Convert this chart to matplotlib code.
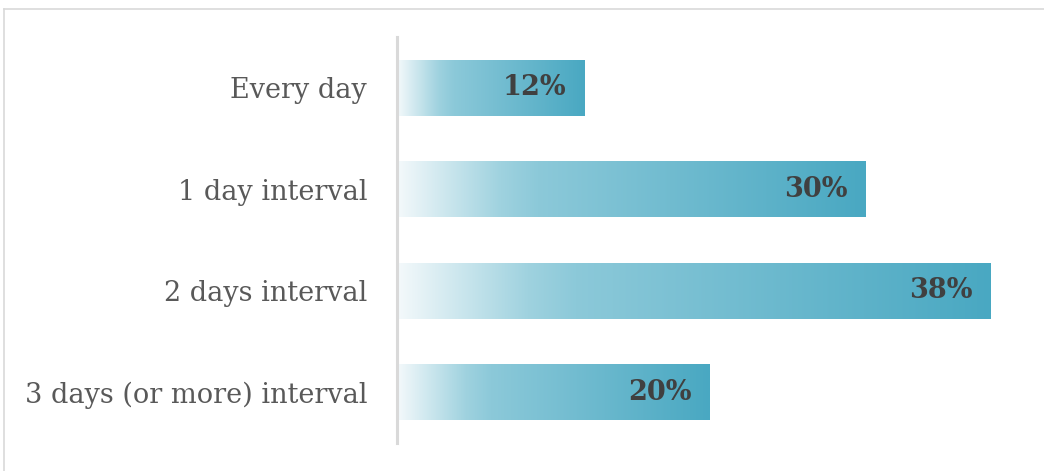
import numpy as np
import matplotlib
matplotlib.use('Agg')
import matplotlib.pyplot as plt
from matplotlib.colors import LinearSegmentedColormap
from matplotlib.lines import Line2D

categories = ['Every day', '1 day interval', '2 days interval', '3 days (or more) interval']
values = [12, 30, 38, 20]

# light-to-teal fill used along each bar
cmap = LinearSegmentedColormap.from_list(
    'bar_fill', [(0.0, '#f4f9fb'), (0.22, '#9fd2df'), (0.3, '#8cc9d9'), (1.0, '#49a8c2')])
grad = np.linspace(0, 1, 256).reshape(1, -1)

fig = plt.figure(figsize=(10.44, 4.71), dpi=100)
ax = fig.add_axes([397 / 1044, 28 / 471, 625 / 1044, 406 / 471])

bar_h = 0.55
y = np.arange(len(categories))
bars = ax.barh(y, values, height=bar_h, color='none', edgecolor='none')
for bar, v in zip(bars, values):
    x0, y0 = bar.get_x(), bar.get_y()
    im = ax.imshow(grad, cmap=cmap, aspect='auto', interpolation='bilinear',
                   extent=[x0, x0 + bar.get_width(), y0 + bar.get_height(), y0], zorder=2)
    im.set_clip_path(bar)
    ax.annotate(f'{v}%', (v, bar.get_y() + bar_h / 2), xytext=(-18, 0),
                textcoords='offset pixels', ha='right', va='center',
                fontsize=19.5, fontweight='bold', color='#404040',
                family='DejaVu Serif', zorder=3)

ax.set_xlim(0, 40.0)
ax.set_ylim(3.5, -0.5)
ax.set_yticks(y)
ax.set_yticklabels(categories, fontsize=19.5, color='#595959', family='DejaVu Serif')
ax.tick_params(axis='y', length=0, pad=21.5)
ax.set_xticks([])
for s in ['top', 'right', 'bottom']:
    ax.spines[s].set_visible(False)
ax.spines['left'].set_color('#d9d9d9')
ax.spines['left'].set_linewidth(2.2)

# chart frame (top and left edges)
fig.add_artist(Line2D([3.5 / 1044, 3.5 / 1044], [0, 1 - 8.5 / 471], color='#d9d9d9', lw=1.2))
fig.add_artist(Line2D([3.5 / 1044, 1], [1 - 8.5 / 471, 1 - 8.5 / 471], color='#d9d9d9', lw=1.2))

fig.savefig('out.png', dpi=100)
